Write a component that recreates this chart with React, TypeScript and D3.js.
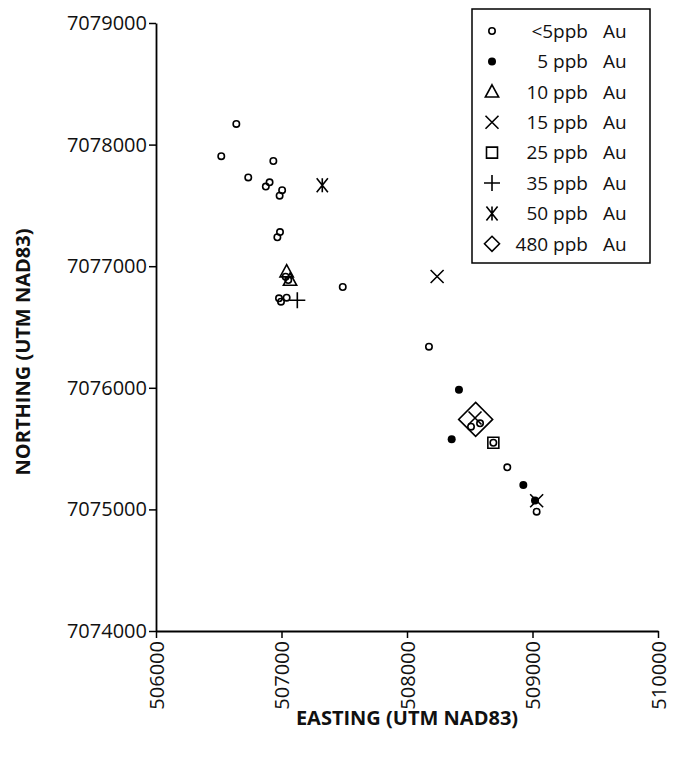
import React, { useEffect, useRef } from "react";
import * as d3 from "d3";

const W = 676;
const H = 757;

// easting / northing pairs
const lt5ppb: [number, number][] = [
  [506640, 7078170], [506520, 7077905], [506935, 7077865], [506735, 7077730],
  [506905, 7077690], [506875, 7077655], [507005, 7077625], [506985, 7077580],
  [506988, 7077281], [506967, 7077238], [507488, 7076829], [506980, 7076736],
  [506996, 7076708], [507041, 7076741], [507033, 7076914], [507054, 7076886],
  [508175, 7076338], [508510, 7075680], [508582, 7075708], [508688, 7075548],
  [508799, 7075346], [509033, 7074981],
];
const ppb5: [number, number][] = [
  [508414, 7075984], [508356, 7075576], [508927, 7075201], [509020, 7075073],
];
const ppb10: [number, number][] = [[507041, 7076955], [507068, 7076886]];
const ppb15: [number, number][] = [[508240, 7076915], [509033, 7075071], [508542, 7075752]];
const ppb25: [number, number][] = [[508688, 7075548]];
const ppb35: [number, number][] = [[507126, 7076720]];
const ppb50: [number, number][] = [[507325, 7077665]];
const ppb480: [number, number][] = [[508547, 7075740]];

const legendLabels = ["<5ppb", "5 ppb", "10 ppb", "15 ppb", "25 ppb", "35 ppb", "50 ppb", "480 ppb"];
const legendKinds = ["open", "dot", "tri", "x", "sq", "plus", "ast", "dia"];
const seriesData = [lt5ppb, ppb5, ppb10, ppb15, ppb25, ppb35, ppb50, ppb480];

const xTicks = [506000, 507000, 508000, 509000, 510000];
const yTicks = [7074000, 7075000, 7076000, 7077000, 7078000, 7079000];

const font = "'Open Sans', sans-serif";

const markerPath = (kind: string, s: number) => {
  switch (kind) {
    case "tri":
      return `M0,${-s}L${s * 0.95},${s * 0.75}L${-s * 0.95},${s * 0.75}Z`;
    case "x":
      return `M${-s},${-s}L${s},${s}M${-s},${s}L${s},${-s}`;
    case "sq":
      return `M${-s},${-s}H${s}V${s}H${-s}Z`;
    case "plus":
      return `M${-s},0H${s}M0,${-s}V${s}`;
    case "ast":
      return `M${-s * 0.8},${-s}L${s * 0.8},${s}M${-s * 0.8},${s}L${s * 0.8},${-s}M0,${-s}V${s}`;
    case "dia":
      return `M0,${-s}L${s},0L0,${s}L${-s},0Z`;
  }
  return "";
};

const Marker = ({ kind, cx, cy, big }: { kind: string; cx: number; cy: number; big?: boolean }) => {
  if (kind === "open")
    return <circle cx={cx} cy={cy} r={3.2} fill="none" stroke="#000" strokeWidth={1.6} />;
  if (kind === "dot") return <circle cx={cx} cy={cy} r={4} fill="#000" />;
  const size: Record<string, number> = { tri: 7, x: 6.5, sq: 5.5, plus: 8, ast: 7, dia: 7.5 };
  const s = big && kind === "dia" ? 17 : size[kind];
  return (
    <path
      d={markerPath(kind, s)}
      transform={`translate(${cx},${cy})`}
      fill="none"
      stroke="#000"
      strokeWidth={1.6}
    />
  );
};

export default function App() {
  const xAxisRef = useRef<SVGGElement>(null);
  const yAxisRef = useRef<SVGGElement>(null);

  const x = d3.scaleLinear().domain([506000, 510000]).range([156, 658]);
  const y = d3.scaleLinear().domain([7074000, 7079000]).range([631, 23]);

  useEffect(() => {
    document.body.style.margin = "0";
    const fmt = d3.format("d");
    const gx = d3.select(xAxisRef.current);
    gx.call(d3.axisBottom(x).tickValues(xTicks).tickFormat(fmt as any).tickSize(7).tickSizeOuter(0));
    gx.select(".domain").attr("stroke-width", 1.8);
    gx.selectAll(".tick line").attr("stroke-width", 1.5);
    gx.selectAll(".tick text")
      .attr("font-size", 20)
      .attr("font-family", font)
      .attr("fill", "#111")
      .attr("transform", "rotate(-90)")
      .attr("text-anchor", "end")
      .attr("dy", "0.36em")
      .attr("x", -10)
      .attr("y", 0);

    const gy = d3.select(yAxisRef.current);
    gy.call(d3.axisLeft(y).tickValues(yTicks).tickFormat(fmt as any).tickSize(7).tickSizeOuter(0));
    gy.select(".domain").attr("stroke-width", 1.8);
    gy.selectAll(".tick line").attr("stroke-width", 1.5);
    gy.selectAll(".tick text")
      .attr("font-size", 20)
      .attr("font-family", font)
      .attr("fill", "#111")
      .attr("x", -9);
  }, []);

  return (
    <svg width={W} height={H} style={{ display: "block", background: "#fff" }}>
      <g ref={xAxisRef} transform={`translate(0,${y(7074000)})`} />
      <g ref={yAxisRef} transform={`translate(${x(506000)},0)`} />

      {seriesData.map((pts, i) =>
        pts.map((p, j) => (
          <Marker key={`${i}-${j}`} kind={legendKinds[i]} cx={x(p[0])} cy={y(p[1])} big />
        ))
      )}

      <rect x={472} y={9} width={178} height={254} fill="none" stroke="#000" strokeWidth={1.5} />
      {legendLabels.map((lab, i) => {
        const cy = 31 + i * 30.4;
        return (
          <g key={lab}>
            <Marker kind={legendKinds[i]} cx={492} cy={cy} />
            <text x={588} y={cy} dy="0.36em" textAnchor="end" fontSize={19} fontFamily={font} fill="#111">
              {lab}
            </text>
            <text x={603} y={cy} dy="0.36em" fontSize={19} fontFamily={font} fill="#111">
              Au
            </text>
          </g>
        );
      })}

      <text
        x={407}
        y={725}
        textAnchor="middle"
        fontSize={20}
        fontWeight="bold"
        fontFamily={font}
        fill="#111"
      >
        EASTING (UTM NAD83)
      </text>
      <text
        transform="translate(30,352) rotate(-90)"
        textAnchor="middle"
        fontSize={20}
        fontWeight="bold"
        fontFamily={font}
        fill="#111"
      >
        NORTHING (UTM NAD83)
      </text>
    </svg>
  );
}
